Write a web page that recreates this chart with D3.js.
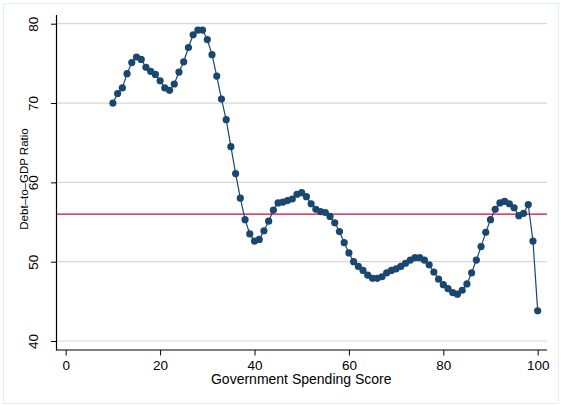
<!DOCTYPE html>
<html>
<head>
<meta charset="utf-8">
<script src="https://cdn.jsdelivr.net/npm/d3@7/dist/d3.min.js"></script>
<style>
  html, body { margin: 0; padding: 0; background: #ffffff; }
  svg { display: block; font-family: "Liberation Sans", Arial, Helvetica, sans-serif; }
</style>
</head>
<body>
<svg id="chart" width="561" height="405"></svg>
<script>
// Government spending score (x) against debt-to-GDP ratio (y)
const spendingScore = d3.range(10, 101);
const debtRatio = [
  70.0, 71.2, 71.9, 73.7, 75.1, 75.8, 75.5, 74.5, 74.0, 73.6,   // 10-19
  72.8, 71.9, 71.6, 72.4, 73.9, 75.2, 77.0, 78.6, 79.2, 79.2,   // 20-29
  78.0, 76.1, 73.4, 70.5, 67.9, 64.5, 61.1, 58.0, 55.3, 53.5,   // 30-39
  52.6, 52.8, 53.9, 55.1, 56.5, 57.4, 57.5, 57.7, 57.9, 58.5,   // 40-49
  58.7, 58.2, 57.3, 56.6, 56.3, 56.2, 55.7, 54.9, 53.8, 52.4,   // 50-59
  51.1, 50.0, 49.4, 48.9, 48.3, 47.9, 47.9, 48.1, 48.6, 48.9,   // 60-69
  49.1, 49.4, 49.8, 50.2, 50.5, 50.5, 50.2, 49.6, 48.7, 47.8,   // 70-79
  47.1, 46.6, 46.1, 45.9, 46.4, 47.2, 48.6, 50.2, 51.9, 53.7,   // 80-89
  55.3, 56.6, 57.4, 57.6, 57.3, 56.8, 55.8, 56.1, 57.2, 52.6,   // 90-99
  43.8                                                          // 100
];
const referenceLevel = 56;               // horizontal reference line
const xTicks = [0, 20, 40, 60, 80, 100];
const yTicks = [40, 50, 60, 70, 80];
const xTitle = "Government Spending Score";
const yTitle = "Debt\u2013to\u2013GDP Ratio";

const points = spendingScore.map((s, i) => ({ x: s, y: debtRatio[i] }));

const svg = d3.select("#chart");
const navy = "#1a476f";

// plot region edges
const plotLeft = 56.5, plotRight = 547, plotTop = 15, plotBottom = 350;

const x = d3.scaleLinear().domain([0, 100]).range([65.7, 537.7]);
const y = d3.scaleLinear().domain([40, 80]).range([341, 23.7]);

// outer graph frame
svg.append("rect")
  .attr("x", 3.5).attr("y", 3.5).attr("width", 555).attr("height", 400)
  .attr("fill", "#ffffff").attr("stroke", "#e6edf0").attr("stroke-width", 1);

// gridlines
svg.append("g").selectAll("line").data(yTicks).join("line")
  .attr("x1", plotLeft).attr("x2", plotRight)
  .attr("y1", d => y(d)).attr("y2", d => y(d))
  .attr("stroke", "#d6d6d6").attr("stroke-width", 1.2);

// reference line
svg.append("line")
  .attr("x1", plotLeft).attr("x2", plotRight)
  .attr("y1", y(referenceLevel)).attr("y2", y(referenceLevel))
  .attr("stroke", "#d2063c").attr("stroke-width", 1.2);

// connected series
svg.append("path").datum(points)
  .attr("fill", "none").attr("stroke", navy).attr("stroke-width", 1.2)
  .attr("d", d3.line().x(d => x(d.x)).y(d => y(d.y)));

svg.append("g").selectAll("circle").data(points).join("circle")
  .attr("cx", d => x(d.x)).attr("cy", d => y(d.y)).attr("r", 3.6)
  .attr("fill", navy);

// y axis
const yAxis = svg.append("g").attr("transform", `translate(${plotLeft},0)`)
  .call(d3.axisLeft(y).tickValues(yTicks).tickSize(5.5).tickPadding(0).tickSizeOuter(0));
yAxis.select(".domain").remove();
yAxis.selectAll(".tick line").attr("stroke", "#000").attr("stroke-width", 1);
yAxis.selectAll(".tick text")
  .attr("x", 0).attr("dy", null)
  .attr("transform", "translate(-19,0) rotate(-90)")
  .attr("text-anchor", "middle")
  .attr("font-size", 13.5).attr("fill", "#000")
  .attr("font-family", "Liberation Sans, Arial, sans-serif");

// x axis
const xAxis = svg.append("g").attr("transform", `translate(0,${plotBottom})`)
  .call(d3.axisBottom(x).tickValues(xTicks).tickSize(5.5).tickPadding(0).tickSizeOuter(0));
xAxis.select(".domain").remove();
xAxis.selectAll(".tick line").attr("stroke", "#000").attr("stroke-width", 1);
xAxis.selectAll(".tick text")
  .attr("y", 19.5).attr("dy", null)
  .attr("font-size", 13.5).attr("fill", "#000")
  .attr("font-family", "Liberation Sans, Arial, sans-serif");

// axis lines
svg.append("line").attr("x1", plotLeft).attr("x2", plotLeft).attr("y1", plotTop).attr("y2", plotBottom + 0.5)
  .attr("stroke", "#000").attr("stroke-width", 1.2);
svg.append("line").attr("x1", plotLeft).attr("x2", plotRight).attr("y1", plotBottom).attr("y2", plotBottom)
  .attr("stroke", "#000").attr("stroke-width", 1.2);

// axis titles
svg.append("text")
  .attr("x", (plotLeft + plotRight) / 2 - 0.5).attr("y", 384)
  .attr("text-anchor", "middle").attr("font-size", 14).attr("fill", "#000")
  .text(xTitle);

svg.append("text")
  .attr("transform", `translate(27.5,179) rotate(-90)`)
  .attr("text-anchor", "middle").attr("font-size", 11.5).attr("fill", "#000")
  .text(yTitle);
</script>
</body>
</html>
